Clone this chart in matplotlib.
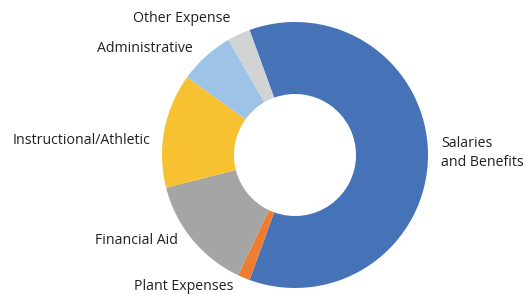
import matplotlib
matplotlib.use("Agg")
import matplotlib.pyplot as plt

categories = ["Salaries\nand Benefits", "Plant Expenses", "Financial Aid",
              "Instructional/Athletic", "Administrative", "Other Expense"]
values = [61.1, 1.5, 14.0, 13.9, 6.7, 2.8]
colors = ["#4672b8", "#ed7d31", "#a5a5a5", "#f7c131", "#9dc3e6", "#d1d3d4"]

W, H = 524, 295
fig = plt.figure(figsize=(W / 100, H / 100), dpi=100)
ax = fig.add_axes([0, 0, 1, 1])

cx, cy, R = 295, H - 155, 133
ax.pie(values, colors=colors, startangle=110, counterclock=False,
       center=(cx, cy), radius=R, frame=True,
       wedgeprops=dict(width=R - 61, linewidth=0))
ax.set_xlim(0, W)
ax.set_ylim(0, H)
ax.set_aspect("equal")
ax.axis("off")

font = dict(family="Open Sans", fontsize=10.2, color="#231f20")
# label positions in pixel coords (x, y from top), alignment
label_pos = {
    "Salaries\nand Benefits": (441, 153, "left"),
    "Plant Expenses": (234, 287, "right"),
    "Financial Aid": (178, 241, "right"),
    "Instructional/Athletic": (150, 140, "right"),
    "Administrative": (193, 48, "right"),
    "Other Expense": (230, 18, "right"),
}
for cat in categories:
    x, y, ha = label_pos[cat]
    ax.text(x, H - y, cat, ha=ha, va="center", linespacing=1.3, **font)

fig.savefig("out.png", dpi=100)
